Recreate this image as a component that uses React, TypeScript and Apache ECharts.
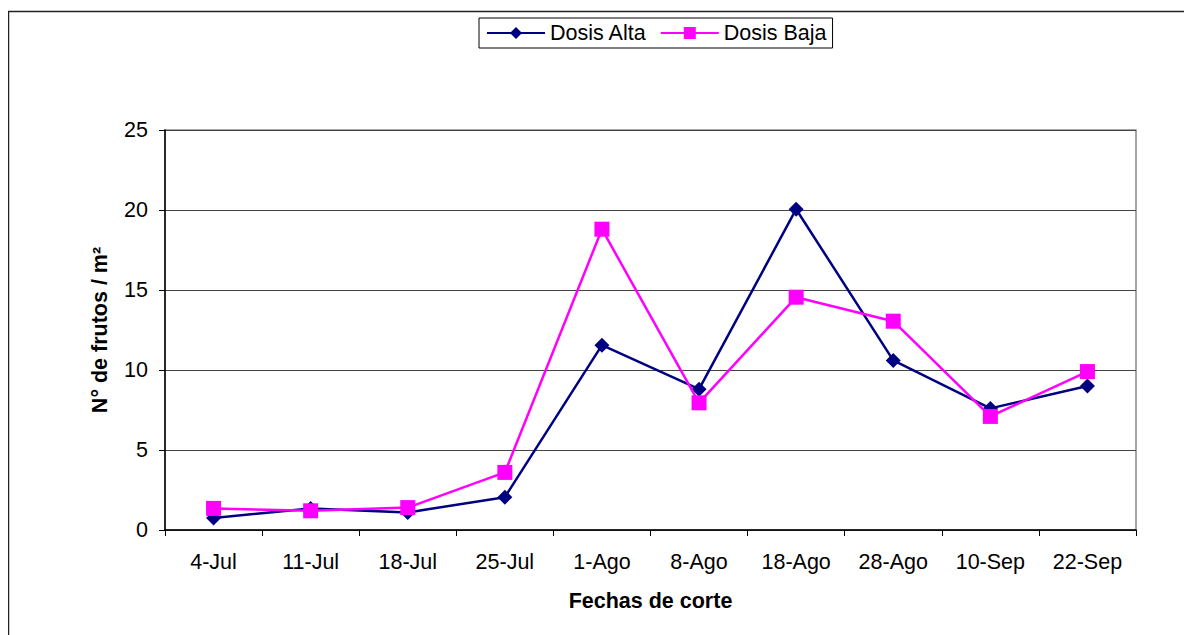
import React, { useEffect, useRef } from "react";
import * as echarts from "echarts";

const categories = ["4-Jul", "11-Jul", "18-Jul", "25-Jul", "1-Ago", "8-Ago", "18-Ago", "28-Ago", "10-Sep", "22-Sep"];
const dosisAlta = [0.75, 1.35, 1.1, 2.05, 11.55, 8.8, 20.05, 10.6, 7.6, 9.0];
const dosisBaja = [1.35, 1.2, 1.4, 3.6, 18.8, 7.95, 14.55, 13.05, 7.1, 9.9];
const yTicks = { min: 0, max: 25, interval: 5 };

const FONT = "Liberation Sans, Arial, sans-serif";

export default function App() {
  const ref = useRef<HTMLDivElement>(null);
  useEffect(() => {
    const chart = echarts.init(ref.current!, null, { renderer: "svg" });
    chart.setOption({
      animation: false,
      backgroundColor: "#fff",
      textStyle: { fontFamily: FONT },
      graphic: [
        {
          type: "rect",
          shape: { x: 0.5, y: 3.5, width: 1300, height: 800 },
          style: { fill: "none", stroke: "#222", lineWidth: 1.5 },
          silent: true,
        },
      ],
      legend: {
        left: 471,
        top: 10,
        padding: [4, 6, 4, 7],
        borderColor: "#000",
        borderWidth: 1,
        itemWidth: 58,
        itemHeight: 15,
        itemGap: 13,
        textStyle: { fontSize: 21.5, color: "#000", fontFamily: FONT },
        data: ["Dosis Alta", "Dosis Baja"],
      },
      grid: {
        left: 157,
        top: 122,
        right: 56,
        bottom: 105,
        show: true,
        borderColor: "#888",
        borderWidth: 1.5,
      },
      xAxis: {
        type: "category",
        data: categories,
        boundaryGap: true,
        name: "Fechas de corte",
        nameLocation: "middle",
        nameGap: 60,
        nameTextStyle: { fontSize: 21.5, fontWeight: "bold", color: "#000", fontFamily: FONT },
        axisLine: { lineStyle: { color: "#000", width: 1.5 } },
        axisTick: { show: true, length: 6, alignWithLabel: false, lineStyle: { color: "#000" } },
        axisLabel: { fontSize: 21.5, color: "#000", margin: 21, fontFamily: FONT },
        splitLine: { show: false },
      },
      yAxis: {
        type: "value",
        min: yTicks.min,
        max: yTicks.max,
        interval: yTicks.interval,
        name: "N° de frutos / m²",
        nameLocation: "middle",
        nameGap: 54,
        nameRotate: 90,
        nameTextStyle: { fontSize: 21.5, fontWeight: "bold", color: "#000", fontFamily: FONT },
        axisLine: { show: true, lineStyle: { color: "#000", width: 1.5 } },
        axisTick: { show: true, length: 6, lineStyle: { color: "#000" } },
        axisLabel: { fontSize: 21.5, color: "#000", margin: 17, fontFamily: FONT },
        splitLine: { show: true, lineStyle: { color: "#444", width: 1 } },
      },
      series: [
        {
          name: "Dosis Alta",
          type: "line",
          data: dosisAlta,
          symbol: "diamond",
          symbolSize: 15,
          lineStyle: { color: "#000080", width: 2.5 },
          itemStyle: { color: "#000080" },
          z: 2,
        },
        {
          name: "Dosis Baja",
          type: "line",
          data: dosisBaja,
          symbol: "rect",
          symbolSize: 15,
          lineStyle: { color: "#FF00FF", width: 2.5 },
          itemStyle: { color: "#FF00FF" },
          z: 3,
        },
      ],
    });
    return () => chart.dispose();
  }, []);
  return <div ref={ref} style={{ width: 1184, height: 627 }} />;
}
